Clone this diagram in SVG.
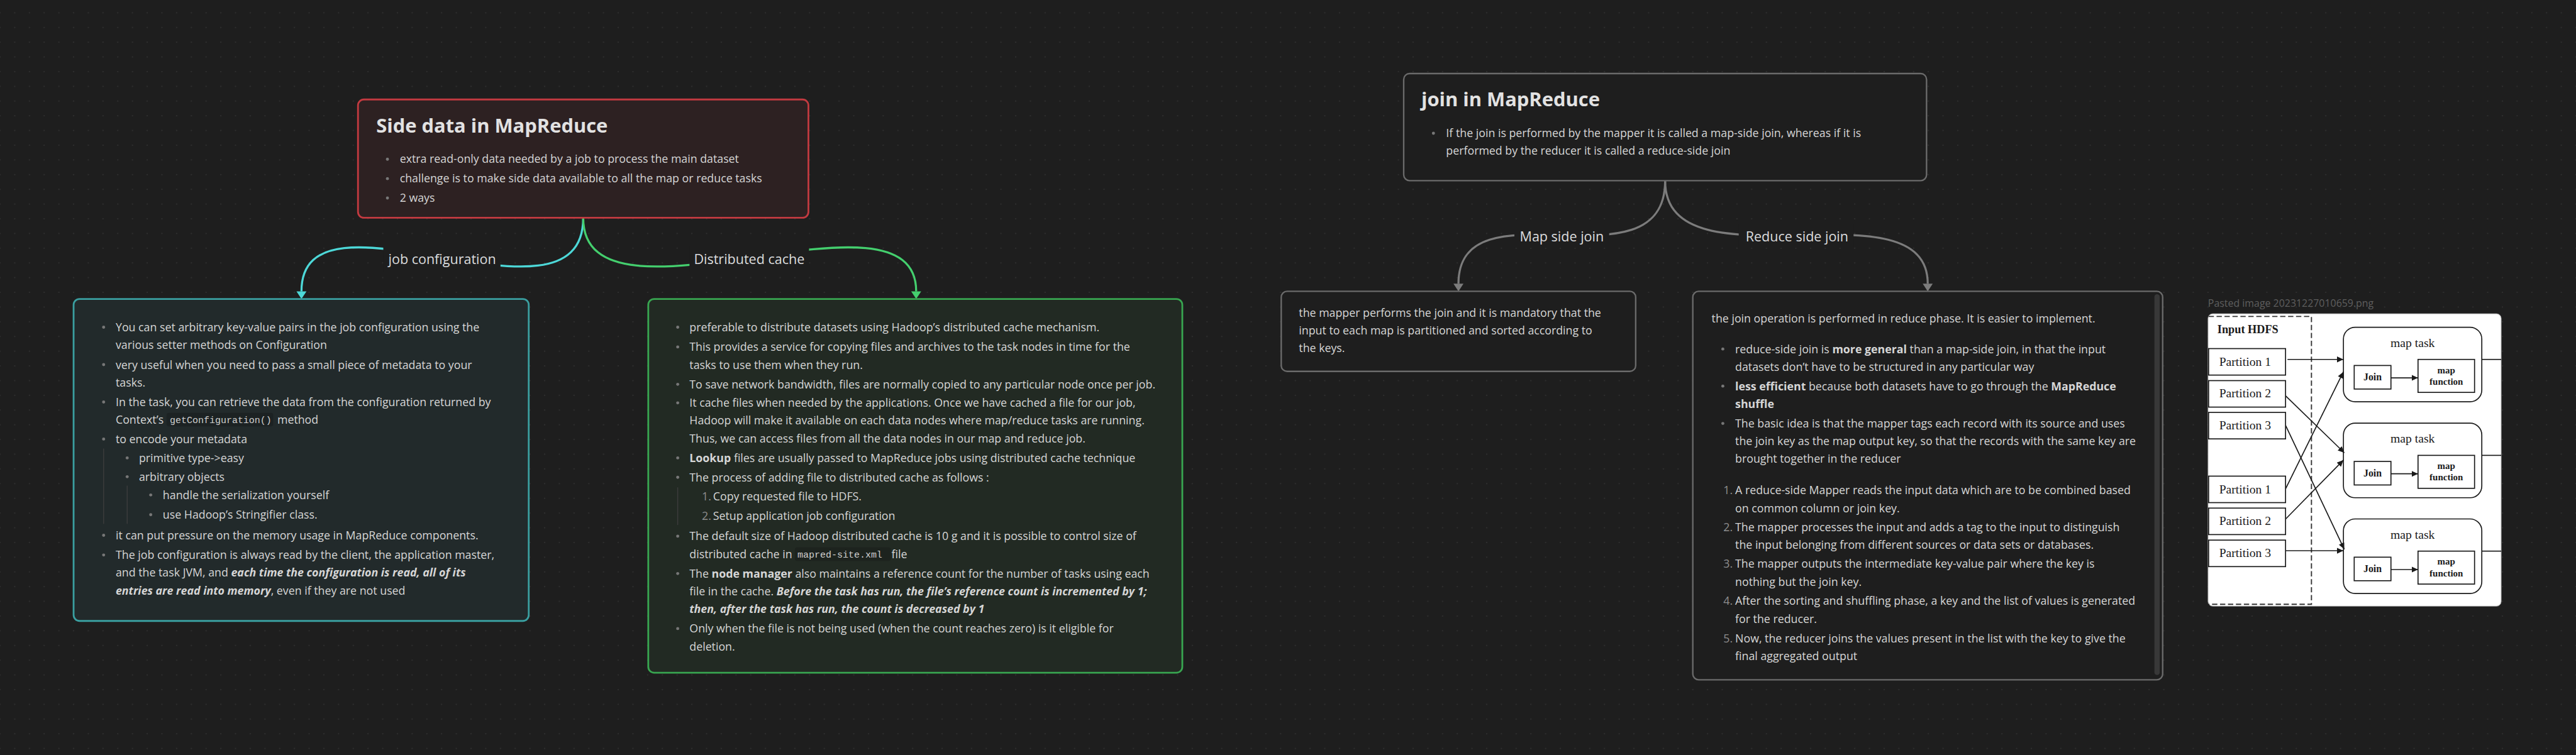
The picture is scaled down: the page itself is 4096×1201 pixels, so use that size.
<svg xmlns="http://www.w3.org/2000/svg" width="4096" height="1201" viewBox="0 0 4096 1201">
<style>
.t{font-family:"Open Sans","Noto Sans","DejaVu Sans",sans-serif;font-size:19px;fill:#d6d6d6}
.h{font-family:"Open Sans","Noto Sans","DejaVu Sans",sans-serif;font-size:33px;font-weight:700;fill:#e2e2e2}
.lbl{font-family:"Open Sans","Noto Sans","DejaVu Sans",sans-serif;font-size:23px;fill:#dcddde;text-anchor:middle}
.cap{font-family:"Open Sans","Noto Sans","DejaVu Sans",sans-serif;font-size:17px;fill:#5e5e5e}
.code{font-family:"Liberation Mono","DejaVu Sans Mono",monospace;font-size:16px;fill:#cfcfcf}
.b{font-weight:700}
.bi{font-weight:700;font-style:italic}
.num{fill:#8e8e8e}
.dot{fill:#777}
.guide{stroke:#3d3d3d;stroke-width:1.5}
.lblbg{fill:#1e1e1e}
.edge{fill:none;stroke-width:3.5}
.sv{font-family:"Liberation Serif","DejaVu Serif",serif;fill:#1a1a1a}
.ibox{fill:#fff;stroke:#1a1a1a;stroke-width:1.8}
.iline{stroke:#1a1a1a;stroke-width:1.8;fill:none}
</style>
<defs>
<pattern id="grid" x="-12.5" y="9.2" width="25" height="25" patternUnits="userSpaceOnUse"><circle cx="12.5" cy="12.5" r="1.1" fill="#313131"/></pattern>
<marker id="mc" markerWidth="14" markerHeight="18" refX="0" refY="9" orient="auto" markerUnits="userSpaceOnUse" viewBox="0 0 14 18"><path d="M0,0.5 L13,9 L0,17.5 z" fill="#4dd8d8"/></marker>
<marker id="mg" markerWidth="14" markerHeight="18" refX="0" refY="9" orient="auto" markerUnits="userSpaceOnUse" viewBox="0 0 14 18"><path d="M0,0.5 L13,9 L0,17.5 z" fill="#44cf6e"/></marker>
<marker id="mgr" markerWidth="14" markerHeight="18" refX="0" refY="9" orient="auto" markerUnits="userSpaceOnUse" viewBox="0 0 14 18"><path d="M0,0.5 L13,9 L0,17.5 z" fill="#7c7c7c"/></marker>
<marker id="mk" markerWidth="12" markerHeight="11" refX="11" refY="5" orient="auto" markerUnits="userSpaceOnUse" viewBox="0 0 12 11"><path d="M0,0 L11,5 L0,10 z" fill="#1a1a1a"/></marker>
</defs>
<rect x="0" y="0" width="4096" height="1201" fill="#1e1e1e"/>
<g transform="scale(0.93623)">
<rect x="0" y="0" width="4375" height="1283" fill="url(#grid)"/>

<g id="connectors">
<path class="edge" stroke="#4dd8d8" d="M990.5,370 C990.5,582 512,296 512,495" marker-end="url(#mc)"/>
<path class="edge" stroke="#44cf6e" d="M990.5,370 C990.5,582 1556,296 1556,495" marker-end="url(#mg)"/>
<path class="edge" stroke="#7c7c7c" d="M2828,307 C2828,497 2477,305 2477,482" marker-end="url(#mgr)"/>
<path class="edge" stroke="#7c7c7c" d="M2828,307 C2828,497 3274,305 3274,482" marker-end="url(#mgr)"/>
<rect class="lblbg" x="651" y="418" width="199" height="44"/>
<text class="lbl" x="751" y="449">job configuration</text>
<rect class="lblbg" x="1171" y="418" width="203" height="44"/>
<text class="lbl" x="1272.5" y="449">Distributed cache</text>
<rect class="lblbg" x="2572" y="381" width="161" height="40"/>
<text class="lbl" x="2652.5" y="410">Map side join</text>
<rect class="lblbg" x="2953" y="381" width="195" height="40"/>
<text class="lbl" x="3052" y="410">Reduce side join</text>
</g>

<g id="side-data">
<rect x="608" y="169" width="765" height="201" rx="10" fill="#2d2122" stroke="#c23a40" stroke-width="3"/>
<text class="h" x="639" y="225">Side data in MapReduce</text>
<circle class="dot" cx="658" cy="270.5" r="2.6"/><text class="t" x="679" y="277">extra read-only data needed by a job to process the main dataset</text>
<circle class="dot" cx="658" cy="303.5" r="2.6"/><text class="t" x="679" y="310">challenge is to make side data available to all the map or reduce tasks</text>
<circle class="dot" cx="658" cy="336.5" r="2.6"/><text class="t" x="679" y="343">2 ways</text>
</g>

<g id="job-config">
<rect x="125" y="508" width="773" height="547" rx="10" fill="#222a2b" stroke="#3a9fa0" stroke-width="3"/>
<line class="guide" x1="176" y1="762" x2="176" y2="890"/>
<line class="guide" x1="216" y1="825" x2="216" y2="890"/>
<circle class="dot" cx="176" cy="556" r="2.6"/><text class="t" x="196.5" y="563">You can set arbitrary key-value pairs in the job configuration using the</text>
<text class="t" x="196.5" y="593">various setter methods on Configuration</text>
<circle class="dot" cx="176" cy="619.5" r="2.6"/><text class="t" x="196.5" y="626.5">very useful when you need to pass a small piece of metadata to your</text>
<text class="t" x="196.5" y="656.5">tasks.</text>
<circle class="dot" cx="176" cy="683" r="2.6"/><text class="t" x="196.5" y="690">In the task, you can retrieve the data from the configuration returned by</text>
<rect x="283" y="701.5" width="181" height="23" rx="4" fill="#1c2223"/>
<text class="t" x="196.5" y="720">Context’s</text>
<text class="code" x="288.5" y="719">getConfiguration()</text>
<text class="t" x="471" y="720">method</text>
<circle class="dot" cx="176" cy="746" r="2.6"/><text class="t" x="196.5" y="753">to encode your metadata</text>
<circle class="dot" cx="216" cy="778" r="2.6"/><text class="t" x="236" y="785">primitive type-&gt;easy</text>
<circle class="dot" cx="216" cy="810" r="2.6"/><text class="t" x="236" y="817">arbitrary objects</text>
<circle class="dot" cx="256" cy="841" r="2.6"/><text class="t" x="276.5" y="848">handle the serialization yourself</text>
<circle class="dot" cx="256" cy="874.5" r="2.6"/><text class="t" x="276.5" y="881.5">use Hadoop’s Stringifier class.</text>
<circle class="dot" cx="176" cy="909.5" r="2.6"/><text class="t" x="196.5" y="916.5">it can put pressure on the memory usage in MapReduce components.</text>
<circle class="dot" cx="176" cy="943" r="2.6"/><text class="t" x="196.5" y="950">The job configuration is always read by the client, the application master,</text>
<text class="t" x="196.5" y="980">and the task JVM, and <tspan class="bi">each time the configuration is read, all of its</tspan></text>
<text class="t" x="196.5" y="1010"><tspan class="bi">entries are read into memory</tspan>, even if they are not used</text>
</g>

<g id="dist-cache">
<rect x="1101" y="508" width="907" height="635" rx="10" fill="#222a23" stroke="#38a550" stroke-width="3"/>
<line class="guide" x1="1151" y1="828" x2="1151" y2="892"/>
<circle class="dot" cx="1151" cy="556" r="2.6"/><text class="t" x="1171" y="563">preferable to distribute datasets using Hadoop’s distributed cache mechanism.</text>
<circle class="dot" cx="1151" cy="589.5" r="2.6"/><text class="t" x="1171" y="596.5">This provides a service for copying files and archives to the task nodes in time for the</text>
<text class="t" x="1171" y="626.5">tasks to use them when they run.</text>
<circle class="dot" cx="1151" cy="653" r="2.6"/><text class="t" x="1171" y="660">To save network bandwidth, files are normally copied to any particular node once per job.</text>
<circle class="dot" cx="1151" cy="684.5" r="2.6"/><text class="t" x="1171" y="691.5">It cache files when needed by the applications. Once we have cached a file for our job,</text>
<text class="t" x="1171" y="721.5">Hadoop will make it available on each data nodes where map/reduce tasks are running.</text>
<text class="t" x="1171" y="751.5">Thus, we can access files from all the data nodes in our map and reduce job.</text>
<circle class="dot" cx="1151" cy="778" r="2.6"/><text class="t" x="1171" y="785"><tspan class="b">Lookup</tspan> files are usually passed to MapReduce jobs using distributed cache technique</text>
<circle class="dot" cx="1151" cy="811" r="2.6"/><text class="t" x="1171" y="818">The process of adding file to distributed cache as follows :</text>
<text class="t num" x="1192" y="850">1.</text><text class="t" x="1211" y="850">Copy requested file to HDFS.</text>
<text class="t num" x="1192" y="883">2.</text><text class="t" x="1211" y="883">Setup application job configuration</text>
<circle class="dot" cx="1151" cy="911" r="2.6"/><text class="t" x="1171" y="918">The default size of Hadoop distributed cache is 10 g and it is possible to control size of</text>
<rect x="1350" y="930" width="163" height="23" rx="4" fill="#1d231e"/>
<text class="t" x="1171" y="948">distributed cache in</text>
<text class="code" x="1354.5" y="947">mapred-site.xml</text>
<text class="t" x="1514" y="948">file</text>
<circle class="dot" cx="1151" cy="974.5" r="2.6"/><text class="t" x="1171" y="981.5">The <tspan class="b">node manager</tspan> also maintains a reference count for the number of tasks using each</text>
<text class="t" x="1171" y="1011.5">file in the cache. <tspan class="bi">Before the task has run, the file’s reference count is incremented by 1;</tspan></text>
<text class="t" x="1171" y="1041.5"><tspan class="bi">then, after the task has run, the count is decreased by 1</tspan></text>
<circle class="dot" cx="1151" cy="1068" r="2.6"/><text class="t" x="1171" y="1075">Only when the file is not being used (when the count reaches zero) is it eligible for</text>
<text class="t" x="1171" y="1105">deletion.</text>
</g>

<g id="join">
<rect x="2384" y="125" width="888" height="182" rx="10" fill="#1e1e1e" stroke="#6b6b6b" stroke-width="2.5"/>
<text class="h" x="2414" y="181">join in MapReduce</text>
<circle class="dot" cx="2434.5" cy="226.5" r="2.6"/><text class="t" x="2456" y="233">If the join is performed by the mapper it is called a map-side join, whereas if it is</text>
<text class="t" x="2456" y="263">performed by the reducer it is called a reduce-side join</text>
</g>

<g id="map-side">
<rect x="2176" y="495" width="602" height="136" rx="10" fill="#1e1e1e" stroke="#6b6b6b" stroke-width="2.5"/>
<text class="t" x="2206" y="538">the mapper performs the join and it is mandatory that the</text>
<text class="t" x="2206" y="568">input to each map is partitioned and sorted according to</text>
<text class="t" x="2206" y="598">the keys.</text>
</g>

<g id="reduce-side">
<rect x="2875" y="495" width="798" height="660" rx="10" fill="#1e1e1e" stroke="#6b6b6b" stroke-width="2.5"/>
<rect x="3659" y="500" width="9" height="647" rx="4.5" fill="#383838"/>
<text class="t" x="2907" y="548">the join operation is performed in reduce phase. It is easier to implement.</text>
<circle class="dot" cx="2926" cy="593" r="2.6"/><text class="t" x="2947" y="600">reduce-side join is <tspan class="b">more general</tspan> than a map-side join, in that the input</text>
<text class="t" x="2947" y="630">datasets don’t have to be structured in any particular way</text>
<circle class="dot" cx="2926" cy="656" r="2.6"/><text class="t" x="2947" y="663"><tspan class="b">less efficient</tspan> because both datasets have to go through the <tspan class="b">MapReduce</tspan></text>
<text class="t b" x="2947" y="693">shuffle</text>
<circle class="dot" cx="2926" cy="719.5" r="2.6"/><text class="t" x="2947" y="726.5">The basic idea is that the mapper tags each record with its source and uses</text>
<text class="t" x="2947" y="756.5">the join key as the map output key, so that the records with the same key are</text>
<text class="t" x="2947" y="786.5">brought together in the reducer</text>
<text class="t num" x="2927" y="840">1.</text><text class="t" x="2947" y="840">A reduce-side Mapper reads the input data which are to be combined based</text>
<text class="t" x="2947" y="870">on common column or join key.</text>
<text class="t num" x="2927" y="902.5">2.</text><text class="t" x="2947" y="902.5">The mapper processes the input and adds a tag to the input to distinguish</text>
<text class="t" x="2947" y="932.5">the input belonging from different sources or data sets or databases.</text>
<text class="t num" x="2927" y="965">3.</text><text class="t" x="2947" y="965">The mapper outputs the intermediate key-value pair where the key is</text>
<text class="t" x="2947" y="995">nothing but the join key.</text>
<text class="t num" x="2927" y="1028">4.</text><text class="t" x="2947" y="1028">After the sorting and shuffling phase, a key and the list of values is generated</text>
<text class="t" x="2947" y="1058">for the reducer.</text>
<text class="t num" x="2927" y="1091.5">5.</text><text class="t" x="2947" y="1091.5">Now, the reducer joins the values present in the list with the key to give the</text>
<text class="t" x="2947" y="1121.5">final aggregated output</text>
</g>

<g id="pasted-image">
<text class="cap" x="3750" y="521">Pasted image 20231227010659.png</text>
<rect x="3750" y="533" width="498" height="497" rx="8" fill="#ffffff" stroke="#9a9a9a" stroke-width="1"/>
<path d="M3751,537.7 H3925.7 V1026.7 H3751" fill="none" stroke="#333" stroke-width="2" stroke-dasharray="9 4.5"/>
<text class="sv" x="3766" y="566" font-size="19.5" font-weight="700">Input HDFS</text>
<rect class="ibox" x="3751" y="592.3" width="130.7" height="45"/><text class="sv" x="3769" y="621.5" font-size="21">Partition 1</text>
<rect class="ibox" x="3751" y="646.7" width="130.7" height="45"/><text class="sv" x="3769" y="675.5" font-size="21">Partition 2</text>
<rect class="ibox" x="3751" y="700.7" width="130.7" height="45"/><text class="sv" x="3769" y="729.7" font-size="21">Partition 3</text>
<rect class="ibox" x="3751" y="809" width="130.7" height="45"/><text class="sv" x="3769" y="838" font-size="21">Partition 1</text>
<rect class="ibox" x="3751" y="863.3" width="130.7" height="45"/><text class="sv" x="3769" y="892.3" font-size="21">Partition 2</text>
<rect class="ibox" x="3751" y="917.7" width="130.7" height="45"/><text class="sv" x="3769" y="946.5" font-size="21">Partition 3</text>

<rect class="ibox" x="3980" y="556" width="235" height="126.7" rx="20"/>
<text class="sv" x="4097.5" y="589.3" font-size="21" text-anchor="middle">map task</text>
<rect class="ibox" x="3998.3" y="621" width="62.4" height="40"/><text class="sv" x="4029.5" y="646.7" font-size="17" font-weight="700" text-anchor="middle">Join</text>
<rect class="ibox" x="4106.7" y="610.7" width="96" height="56"/>
<text class="sv" x="4154.7" y="634" font-size="16" font-weight="700" text-anchor="middle">map</text>
<text class="sv" x="4154.7" y="653.3" font-size="16" font-weight="700" text-anchor="middle">function</text>
<line class="iline" x1="4060.7" y1="642" x2="4106.7" y2="642" marker-end="url(#mk)"/>
<line class="iline" x1="4215" y1="610.7" x2="4248" y2="610.7"/>

<rect class="ibox" x="3980" y="719" width="235" height="126.7" rx="20"/>
<text class="sv" x="4097.5" y="752.3" font-size="21" text-anchor="middle">map task</text>
<rect class="ibox" x="3998.3" y="784" width="62.4" height="40"/><text class="sv" x="4029.5" y="809.7" font-size="17" font-weight="700" text-anchor="middle">Join</text>
<rect class="ibox" x="4106.7" y="773.7" width="96" height="56"/>
<text class="sv" x="4154.7" y="797" font-size="16" font-weight="700" text-anchor="middle">map</text>
<text class="sv" x="4154.7" y="816.3" font-size="16" font-weight="700" text-anchor="middle">function</text>
<line class="iline" x1="4060.7" y1="805" x2="4106.7" y2="805" marker-end="url(#mk)"/>
<line class="iline" x1="4215" y1="773.7" x2="4248" y2="773.7"/>

<rect class="ibox" x="3980" y="881.7" width="235" height="126.7" rx="20"/>
<text class="sv" x="4097.5" y="915" font-size="21" text-anchor="middle">map task</text>
<rect class="ibox" x="3998.3" y="946.7" width="62.4" height="40"/><text class="sv" x="4029.5" y="972.4" font-size="17" font-weight="700" text-anchor="middle">Join</text>
<rect class="ibox" x="4106.7" y="936.4" width="96" height="56"/>
<text class="sv" x="4154.7" y="959.7" font-size="16" font-weight="700" text-anchor="middle">map</text>
<text class="sv" x="4154.7" y="979" font-size="16" font-weight="700" text-anchor="middle">function</text>
<line class="iline" x1="4060.7" y1="967.7" x2="4106.7" y2="967.7" marker-end="url(#mk)"/>
<line class="iline" x1="4215" y1="936.4" x2="4248" y2="936.4"/>

<line class="iline" x1="3885" y1="610.7" x2="3980" y2="610.7" marker-end="url(#mk)"/>
<line class="iline" x1="3882" y1="672.7" x2="3981.5" y2="769.3" marker-end="url(#mk)"/>
<line class="iline" x1="3882" y1="723.3" x2="3981.5" y2="933.3" marker-end="url(#mk)"/>
<line class="iline" x1="3882" y1="830" x2="3980" y2="631.7" marker-end="url(#mk)"/>
<line class="iline" x1="3882" y1="881.7" x2="3980" y2="781.7" marker-end="url(#mk)"/>
<line class="iline" x1="3882" y1="935.7" x2="3980" y2="935.7" marker-end="url(#mk)"/>
</g>
</g>
</svg>
